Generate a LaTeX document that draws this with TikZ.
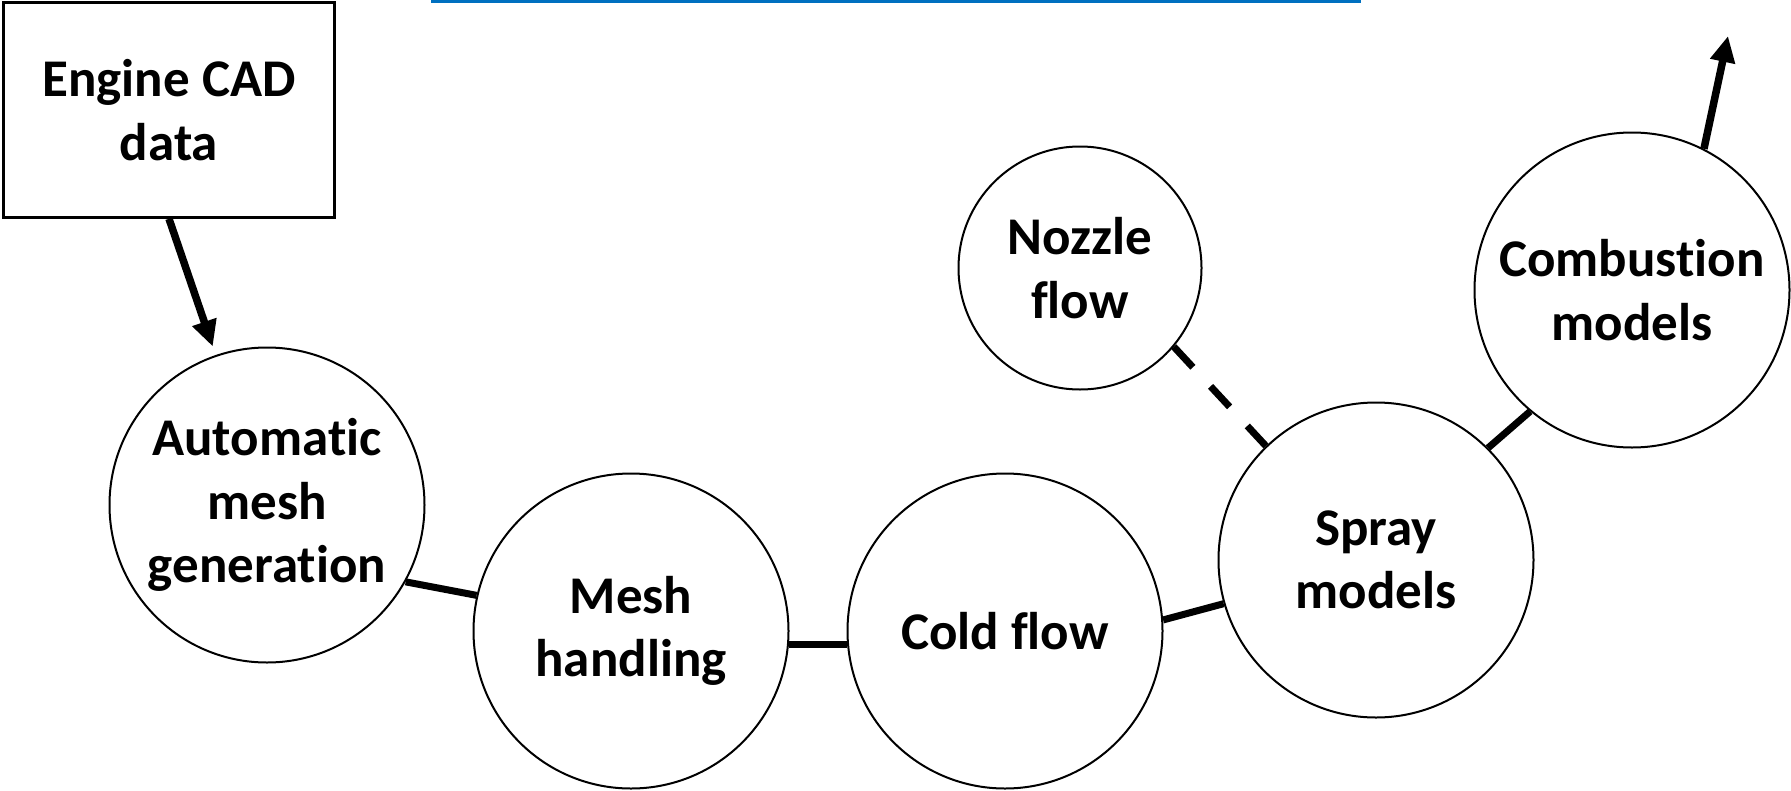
\documentclass[tikz,border=0pt]{standalone}
\usepackage{fontspec}
\setmainfont{Carlito}[Ligatures=NoCommon]
\usepackage{tikz}
\usetikzlibrary{arrows.meta}
\definecolor{topblue}{RGB}{0,112,192}
\tikzstyle{bubble}=[draw=black,fill=white,line width=2pt,circle,inner sep=0pt,minimum size=315pt,align=center,font=\bfseries\fontsize{53}{63.5}\selectfont]
\tikzstyle{smallbubble}=[bubble,minimum size=243pt]
\tikzstyle{link}=[draw=black,line width=7pt]
\tikzstyle{flow}=[link,line width=7.5pt,-{Triangle[length=26pt,width=24pt]}]

\begin{document}
\begin{tikzpicture}[x=1pt,y=-1pt]
      \useasboundingbox (0,0) rectangle (1791,790);
      \fill[topblue] (431,0) rectangle (1361,3);

      \node[draw=black,line width=2.5pt,minimum width=331pt,minimum height=215pt,inner sep=0pt,align=center,font=\bfseries\fontsize{53}{63.5}\selectfont] (cad) at (169,110) {Engine CAD\\data};

      \node[bubble] (auto) at (267,505) {Automatic\\mesh\\generation};
      \node[bubble] (mesh) at (631,631) {Mesh\\handling};
      \node[bubble] (cold) at (1005,631) {Cold flow};
      \node[bubble] (spray) at (1376,560) {Spray\\models};
      \node[smallbubble] (nozzle) at (1080,268) {Nozzle\\flow};
      \node[bubble] (comb) at (1632,290) {Combustion\\models};

      \coordinate (out) at (1728,36);

      \draw[flow,shorten >=9pt] (cad.south) -- (auto);
      \draw[link] (auto.-29) -- (mesh.167);
      \draw[link] (mesh.-5) -- (cold.185);
      \draw[link] (cold.4) -- (spray.196);
      \draw[link,dash pattern=on 28pt off 26pt] (nozzle.-40) -- (spray.134);
      \draw[link] (spray.45) -- (comb.230);
      \draw[flow] (comb.63) -- (out);
\end{tikzpicture}
\end{document}
